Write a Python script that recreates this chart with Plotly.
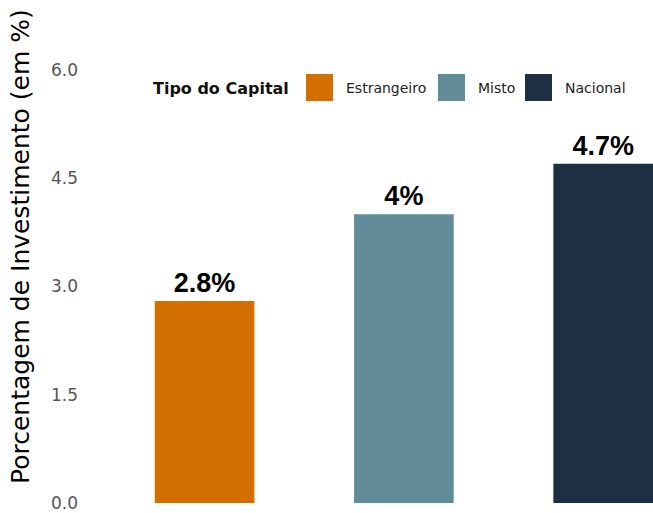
import plotly.graph_objects as go

# data
categorias = ["Estrangeiro", "Misto", "Nacional"]
valores = [2.8, 4.0, 4.7]
rotulos = ["2.8%", "4%", "4.7%"]
cores = ["#D36E00", "#628C99", "#1D2F44"]
ticks = [0.0, 1.5, 3.0, 4.5, 6.0]
tick_text = ["0.0", "1.5", "3.0", "4.5", "6.0"]

W, H = 653, 513
ML = 85


def px_x(p):
    return (p - ML) / (W - ML)


def px_y(p):
    return 1 - p / H


fig = go.Figure()
fig.add_trace(go.Bar(
    x=list(range(len(categorias))), y=valores, marker=dict(color=cores, line=dict(width=0)),
    width=0.5, text=rotulos, textposition="outside", cliponaxis=False,
    textfont=dict(family="Liberation Sans", size=27, color="black", weight="bold"),
    showlegend=False, hoverinfo="skip",
))

# legend drawn by hand (big square keys)
legend_x = [306, 438, 525]
label_x = [344, 476, 563]
for i, cat in enumerate(categorias):
    fig.add_shape(type="rect", xref="paper", yref="paper",
                  x0=px_x(legend_x[i]), x1=px_x(legend_x[i] + 27),
                  y0=px_y(101), y1=px_y(74),
                  fillcolor=cores[i], line=dict(width=0))
    fig.add_annotation(x=px_x(label_x[i]), y=px_y(88), xref="paper", yref="paper",
                       text=cat, showarrow=False, xanchor="left", yanchor="middle",
                       font=dict(family="DejaVu Sans", size=14, color="#222222"))
fig.add_annotation(x=px_x(151), y=px_y(88), xref="paper", yref="paper",
                   text="<b>Tipo do Capital</b>", showarrow=False, xanchor="left", yanchor="middle",
                   font=dict(family="DejaVu Sans", size=16, color="#111111"))

# y axis title
fig.add_annotation(x=px_x(21), y=px_y(247), xref="paper", yref="paper",
                   text="Porcentagem de Investimento (em %)", showarrow=False, textangle=-90,
                   xanchor="center", yanchor="middle",
                   font=dict(family="DejaVu Sans", size=25, color="#000000"))

fig.update_layout(
    width=W, height=H, margin=dict(l=ML, r=0, t=0, b=0),
    plot_bgcolor="white", paper_bgcolor="white",
    xaxis=dict(range=[-0.6, 2.25], showticklabels=False, showgrid=False,
               zeroline=False, showline=False, ticks=""),
    yaxis=dict(range=[-0.138, 6.97], tickvals=ticks, ticktext=tick_text,
               showgrid=False, zeroline=False, showline=False, ticks="",
               ticklabeloverflow="allow", ticklabelstandoff=6,
               tickfont=dict(family="DejaVu Sans", size=17, color="#555555")),
)

fig.write_html("out.html", config={"displayModeBar": False},
               post_script="document.body.style.margin='0px';")
